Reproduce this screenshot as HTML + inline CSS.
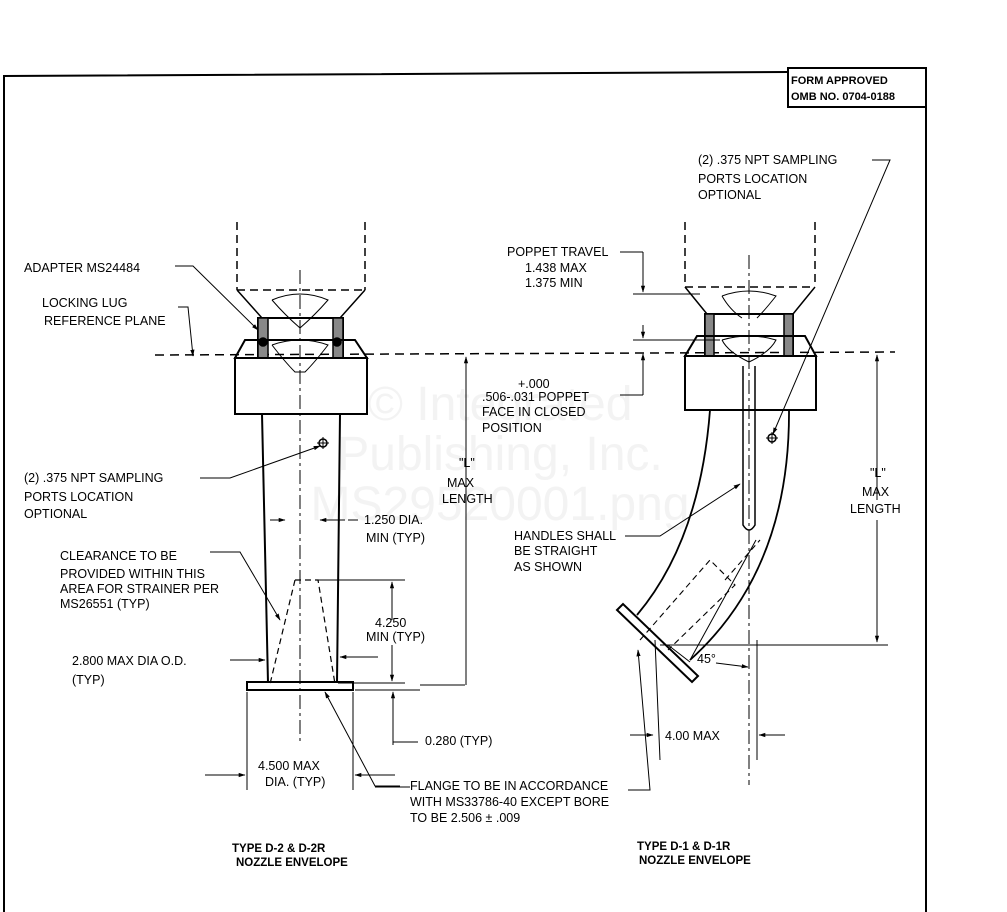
<!DOCTYPE html>
<html><head><meta charset="utf-8"><style>
html,body{margin:0;padding:0;background:#fff;}
svg{display:block;}
text{font-family:"Liberation Sans",sans-serif;font-size:12.5px;fill:#000;}
.wm{font-size:48px;fill:#f3f3f3;}
</style></head><body>
<svg width="1007" height="912" viewBox="0 0 1007 912" xmlns="http://www.w3.org/2000/svg">
<defs><marker id="a" viewBox="0 0 10 10" refX="9" refY="5" markerWidth="7" markerHeight="7" orient="auto-start-reverse"><path d="M0,2 L10,5 L0,8 z" fill="#000"/></marker></defs>
<g class="wm" text-anchor="middle">
<text x="500" y="420" class="wm">© Integrated</text>
<text x="500" y="470" class="wm">Publishing, Inc.</text>
<text x="500" y="520" class="wm">MS29520001.png</text>
</g>
<g stroke="#000" fill="none" stroke-width="2">
<path d="M3,76 L788,72 M4,76 L4,912 M926,68 L926,912"/>
<rect x="788" y="68" width="138" height="39" stroke-width="2"/>
</g>
<text x="791" y="84" style="font-size:11px;font-weight:bold">FORM APPROVED</text>
<text x="791" y="100" style="font-size:11px;font-weight:bold">OMB NO. 0704-0188</text>

<line x1="155" y1="355" x2="895" y2="352" stroke="#000" stroke-width="1.5" stroke-dasharray="9,6"/>

<g stroke="#000" fill="none" stroke-width="1.5">
<path d="M237,222 L237,290 M365,222 L365,290 M237,290 L365,290" stroke-dasharray="8,5"/>
<path d="M237,290 L262,318 M365,290 L340,318"/>
<path d="M272,300 Q300,288 328,300 Q315,315 300,328 Q285,315 272,300" stroke-width="1"/>
<rect x="258" y="318" width="85" height="40" stroke-width="2"/>
<rect x="258" y="318" width="10" height="40" fill="#888"/>
<rect x="333" y="318" width="10" height="40" fill="#888"/>
<path d="M245,340 L355,340 L367,358 L235,358 Z" stroke-width="2"/>
<path d="M272,345 Q300,335 328,345 Q315,362 305,372 L295,372 Q285,362 272,345" stroke-width="1"/>
<circle cx="263" cy="342" r="4" fill="#000"/><circle cx="337" cy="342" r="4" fill="#000"/>
<rect x="235" y="358" width="132" height="56" stroke-width="2"/>
<path d="M262,414 L268,683 M340,414 L337,683" stroke-width="2"/>
<rect x="247" y="682" width="106" height="8" stroke-width="2"/>
<line x1="300" y1="270" x2="300" y2="745" stroke-width="1" stroke-dasharray="14,4,3,4"/>
<circle cx="323" cy="443" r="4" stroke-width="1.5"/>
<path d="M317,443 L329,443 M323,437 L323,449" stroke-width="1"/>
<path d="M295,580 L318,580 L335,684 M295,580 L270,684" stroke-dasharray="6,4" stroke-width="1.2"/>
<path d="M318,580 L405,580 M338,683 L405,683" stroke-width="1"/>
<line x1="392" y1="582" x2="392" y2="620" marker-start="url(#a)" stroke-width="1"/>
<line x1="392" y1="645" x2="392" y2="681" marker-end="url(#a)" stroke-width="1"/>
<path d="M355,690 L420,690" stroke-width="1"/>
<line x1="393" y1="745" x2="393" y2="692" marker-end="url(#a)" stroke-width="1"/>
<path d="M393,740 L393,742 L418,742" stroke-width="1"/>
<line x1="466" y1="685" x2="466" y2="357" marker-end="url(#a)" stroke-width="1"/>
<path d="M465,685 L420,685" stroke-width="1"/>
<line x1="270" y1="520" x2="285" y2="520" marker-end="url(#a)" stroke-width="1"/>
<line x1="345" y1="520" x2="320" y2="520" marker-end="url(#a)" stroke-width="1"/>
<line x1="348" y1="520" x2="358" y2="520" stroke-width="1"/>
<line x1="230" y1="660" x2="265" y2="660" marker-end="url(#a)" stroke-width="1"/>
<line x1="378" y1="657" x2="340" y2="657" marker-end="url(#a)" stroke-width="1"/>
<path d="M247,692 L247,790 M353,692 L353,790" stroke-width="1"/>
<line x1="205" y1="775" x2="245" y2="775" marker-end="url(#a)" stroke-width="1"/>
<line x1="395" y1="775" x2="355" y2="775" marker-end="url(#a)" stroke-width="1"/>
<path d="M175,266 L193,266 L258,330" stroke-width="1" marker-end="url(#a)"/>
<path d="M178,307 L188,307 L193,356" stroke-width="1" marker-end="url(#a)"/>
<path d="M200,478 L230,478 L320,446" stroke-width="1" marker-end="url(#a)"/>
<path d="M210,552 L240,552 L280,620" stroke-width="1" marker-end="url(#a)"/>
<path d="M400,786 L375,786 L325,692" stroke-width="1" marker-end="url(#a)"/>
<path d="M410,787 L375,787" stroke-width="1"/>
</g>
<text x="24" y="272">ADAPTER MS24484</text>
<text x="42" y="307">LOCKING LUG</text>
<text x="44" y="325">REFERENCE PLANE</text>
<text x="24" y="482">(2) .375 NPT SAMPLING</text>
<text x="24" y="501">PORTS LOCATION</text>
<text x="24" y="518">OPTIONAL</text>
<text x="364" y="524">1.250 DIA.</text>
<text x="366" y="542">MIN (TYP)</text>
<text x="60" y="560">CLEARANCE TO BE</text>
<text x="60" y="578">PROVIDED WITHIN THIS</text>
<text x="60" y="593">AREA FOR STRAINER PER</text>
<text x="60" y="608">MS26551 (TYP)</text>
<text x="375" y="627">4.250</text>
<text x="366" y="641">MIN (TYP)</text>
<text x="72" y="665">2.800 MAX DIA O.D.</text>
<text x="72" y="684">(TYP)</text>
<text x="459" y="467">"L"</text>
<text x="447" y="487">MAX</text>
<text x="442" y="503">LENGTH</text>
<text x="425" y="745">0.280 (TYP)</text>
<text x="258" y="770">4.500 MAX</text>
<text x="265" y="786">DIA. (TYP)</text>
<text x="410" y="790">FLANGE TO BE IN ACCORDANCE</text>
<text x="410" y="806">WITH MS33786-40 EXCEPT BORE</text>
<text x="410" y="822">TO BE 2.506 ± .009</text>
<text x="232" y="852" style="font-weight:bold;font-size:11.5px">TYPE D-2 &amp; D-2R</text>
<text x="236" y="866" style="font-weight:bold;font-size:11.5px">NOZZLE ENVELOPE</text>

<g stroke="#000" fill="none" stroke-width="1.5">
<path d="M685,222 L685,287 M815,222 L815,287 M685,287 L815,287" stroke-dasharray="8,5"/>
<path d="M685,287 L707,314 M815,287 L793,314"/>
<path d="M722,296 Q749,286 776,296 Q765,310 757,318 M722,296 Q730,310 742,318" stroke-width="1"/>
<rect x="705" y="314" width="88" height="42" stroke-width="2"/>
<rect x="705" y="314" width="9" height="42" fill="#888"/>
<rect x="784" y="314" width="9" height="42" fill="#888"/>
<path d="M697,336 L805,336 L816,356 L685,356 Z" stroke-width="2"/>
<path d="M722,340 Q749,332 776,340 Q770,352 749,362 Q728,352 722,340" stroke-width="1"/>
<rect x="685" y="356" width="131" height="54" stroke-width="2"/>
<path d="M743,366 L743,525 Q749,535 755,525 L755,366" stroke-width="1.5"/>
<line x1="749" y1="255" x2="749" y2="785" stroke-width="1" stroke-dasharray="14,4,3,4"/>
<path d="M710,410 Q700,540 637,615 M789,410 Q790,570 690,660" stroke-width="1.8"/>
<path d="M617,610 L623,604 L698,676 L692,682 Z" stroke-width="2"/>
<path d="M640,640 L710,560 L735,585 L668,650 M725,580 L760,540" stroke-dasharray="6,4" stroke-width="1.1"/>
<path d="M756,540 L690,660" stroke-width="1"/>
<circle cx="772" cy="438" r="4" stroke-width="1.5"/>
<path d="M766,438 L778,438 M772,432 L772,444" stroke-width="1"/>
<path d="M633,294 L700,294 M633,340 L720,340" stroke-width="1"/>
<line x1="643" y1="252" x2="643" y2="292" stroke-width="1" marker-end="url(#a)"/>
<line x1="643" y1="325" x2="643" y2="338" stroke-width="1" marker-end="url(#a)"/>
<path d="M620,252 L643,252" stroke-width="1"/>
<line x1="643" y1="395" x2="643" y2="354" stroke-width="1" marker-end="url(#a)"/>
<path d="M620,395 L643,395" stroke-width="1"/>
<line x1="877" y1="500" x2="877" y2="355" stroke-width="1" marker-end="url(#a)"/>
<line x1="877" y1="520" x2="877" y2="642" stroke-width="1" marker-end="url(#a)"/>
<path d="M660,645 L888,645" stroke-width="1"/>
<path d="M655,640 L660,760 M757,640 L757,760" stroke-width="1"/>
<line x1="630" y1="735" x2="653" y2="735" stroke-width="1" marker-end="url(#a)"/>
<line x1="785" y1="735" x2="759" y2="735" stroke-width="1" marker-end="url(#a)"/>
<line x1="716" y1="663" x2="748" y2="667" stroke-width="1" marker-end="url(#a)"/>
<line x1="668" y1="645" x2="690" y2="662" stroke-width="1"/>
<path d="M872,160 L890,160 L773,434" stroke-width="1" marker-end="url(#a)"/>
<path d="M625,536 L660,536 L740,484" stroke-width="1" marker-end="url(#a)"/>
<path d="M628,790 L650,790 L638,650" stroke-width="1" marker-end="url(#a)"/>
</g>
<text x="698" y="164">(2) .375 NPT SAMPLING</text>
<text x="698" y="183">PORTS LOCATION</text>
<text x="698" y="199">OPTIONAL</text>
<text x="507" y="256">POPPET TRAVEL</text>
<text x="525" y="272">1.438 MAX</text>
<text x="525" y="287">1.375 MIN</text>
<text x="518" y="388">+.000</text>
<text x="482" y="401">.506-.031 POPPET</text>
<text x="482" y="416">FACE IN CLOSED</text>
<text x="482" y="432">POSITION</text>
<text x="514" y="540">HANDLES SHALL</text>
<text x="514" y="555">BE STRAIGHT</text>
<text x="514" y="571">AS SHOWN</text>
<text x="870" y="477">"L"</text>
<text x="862" y="496">MAX</text>
<text x="850" y="513">LENGTH</text>
<text x="697" y="663">45°</text>
<text x="665" y="740">4.00 MAX</text>
<text x="637" y="850" style="font-weight:bold;font-size:11.5px">TYPE D-1 &amp; D-1R</text>
<text x="639" y="864" style="font-weight:bold;font-size:11.5px">NOZZLE ENVELOPE</text>
</svg>
</body></html>
